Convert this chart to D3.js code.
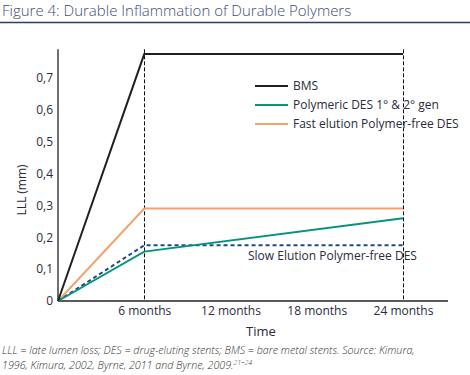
<!DOCTYPE html>
<html>
<head>
<meta charset="utf-8">
<script src="https://cdn.jsdelivr.net/npm/d3@7"></script>
<style>
  body { margin: 0; background: #fff; }
  svg { font-family: "Open Sans", sans-serif; }
</style>
</head>
<body>
<div id="chart"></div>
<script>
var wi = 470;
var he = 375;

// data (months, LLL in mm)
var months = [0, 6, 24];
var bms = [0, 0.775, 0.775];
var polymeric = [0, 0.155, 0.26];
var fastElution = [0, 0.29, 0.29];
var slowElution = [0, 0.175, 0.175];
var xTicks = [6, 12, 18, 24];
var xTickLabels = ["6 months", "12 months", "18 months", "24 months"];
var yTicks = [0, 0.1, 0.2, 0.3, 0.4, 0.5, 0.6, 0.7];
var legendNames = ["BMS", "Polymeric DES 1° & 2° gen", "Fast elution Polymer-free DES"];

var xScale = d3.scaleLinear().domain([0, 24]).range([58, 403]);
var yScale = d3.scaleLinear().domain([0, 0.7]).range([301, 78]);

var svg = d3.select("#chart").append("svg")
  .attr("width", wi)
  .attr("height", he);

// title
svg.append("text")
  .attr("x", 2).attr("y", 16)
  .attr("font-size", 15)
  .attr("font-weight", 300)
  .attr("fill", "#3d4a78")
  .text("Figure 4: Durable Inflammation of Durable Polymers");
svg.append("line")
  .attr("x1", 0).attr("x2", wi)
  .attr("y1", 22.5).attr("y2", 22.5)
  .attr("stroke", "#2e3b6b").attr("stroke-width", 1.5);

// dashed verticals at 6 and 24 months
svg.selectAll(".vline")
  .data([6, 24])
  .enter().append("line")
  .attr("class", "vline")
  .attr("x1", function(d) { return Math.round(xScale(d)) + 0.5; })
  .attr("x2", function(d) { return Math.round(xScale(d)) + 0.5; })
  .attr("y1", yScale(0.79))
  .attr("y2", yScale(0))
  .attr("stroke", "#111")
  .attr("stroke-width", 1)
  .attr("stroke-dasharray", "4,2");

// axes (lines only, labels hand placed)
svg.append("line")
  .attr("x1", xScale(0)).attr("x2", 448)
  .attr("y1", yScale(0)).attr("y2", yScale(0))
  .attr("stroke", "#222").attr("stroke-width", 1.3);
svg.append("line")
  .attr("x1", xScale(0)).attr("x2", xScale(0))
  .attr("y1", yScale(0.79)).attr("y2", yScale(0))
  .attr("stroke", "#222").attr("stroke-width", 1.3);

var yAxis = d3.axisLeft(yScale)
  .tickValues(yTicks)
  .tickSize(0)
  .tickPadding(5)
  .tickFormat(function(d) { return d === 0 ? "0" : d3.format(".1f")(d).replace(".", ","); });
var gy = svg.append("g")
  .attr("transform", "translate(" + xScale(0) + ",0)")
  .call(yAxis);
gy.select(".domain").remove();
gy.selectAll("text")
  .attr("font-family", "Open Sans, sans-serif")
  .attr("font-size", 12)
  .attr("fill", "#2b2a3a");

var xAxis = d3.axisBottom(xScale)
  .tickValues(xTicks)
  .tickSize(0)
  .tickPadding(5)
  .tickFormat(function(d, i) { return xTickLabels[i]; });
var gx = svg.append("g")
  .attr("transform", "translate(0," + yScale(0) + ")")
  .call(xAxis);
gx.select(".domain").remove();
gx.selectAll("text")
  .attr("font-family", "Open Sans, sans-serif")
  .attr("font-size", 12)
  .attr("fill", "#2b2a3a");

// axis titles
svg.append("text")
  .attr("x", 261).attr("y", 336)
  .attr("text-anchor", "middle")
  .attr("font-size", 13)
  .attr("fill", "#2b2a3a")
  .text("Time");
svg.append("text")
  .attr("transform", "translate(26,190) rotate(-90)")
  .attr("text-anchor", "middle")
  .attr("font-size", 12)
  .attr("fill", "#2b2a3a")
  .text("LLL (mm)");

// series
var line = d3.line()
  .x(function(d) { return xScale(d[0]); })
  .y(function(d) { return yScale(d[1]); });

var series = [
  { vals: fastElution, color: "#f2a46c", dash: null },
  { vals: slowElution, color: "#1d4b8a", dash: "4,3" },
  { vals: polymeric, color: "#07927b", dash: null },
  { vals: bms, color: "#231f20", dash: null }
];

svg.selectAll(".series")
  .data(series)
  .enter().append("path")
  .attr("class", "series")
  .attr("d", function(s) { return line(d3.zip(months, s.vals)); })
  .attr("fill", "none")
  .attr("stroke", function(s) { return s.color; })
  .attr("stroke-width", 2)
  .attr("stroke-dasharray", function(s) { return s.dash; });

// legend
var legendColors = ["#231f20", "#07927b", "#f2a46c"];
var lg = svg.selectAll(".leg")
  .data(legendNames)
  .enter().append("g")
  .attr("class", "leg")
  .attr("transform", function(d, i) { return "translate(255," + (86 + i * 19) + ")"; });
lg.append("line")
  .attr("x1", 0).attr("x2", 33)
  .attr("stroke", function(d, i) { return legendColors[i]; })
  .attr("stroke-width", 2);
lg.append("text")
  .attr("x", 38).attr("y", 4)
  .attr("font-size", 12)
  .attr("fill", "#2b2a3a")
  .text(function(d) { return d; });

svg.append("text")
  .attr("x", 248).attr("y", 260)
  .attr("font-size", 12)
  .attr("fill", "#2b2a3a")
  .text("Slow Elution Polymer-free DES");

// caption
var cap = svg.append("g")
  .attr("font-style", "italic")
  .attr("font-size", 10.7)
  .attr("font-weight", 300)
  .attr("fill", "#333");
cap.append("text").attr("x", 2).attr("y", 354)
  .text("LLL = late lumen loss; DES = drug-eluting stents; BMS = bare metal stents. Source: Kimura,");
var c2 = cap.append("text").attr("x", 2).attr("y", 369);
c2.append("tspan").text("1996, Kimura, 2002, Byrne, 2011 and Byrne, 2009.");
c2.append("tspan").attr("font-size", 7).attr("dy", -4).text("21–24");
</script>
</body>
</html>
